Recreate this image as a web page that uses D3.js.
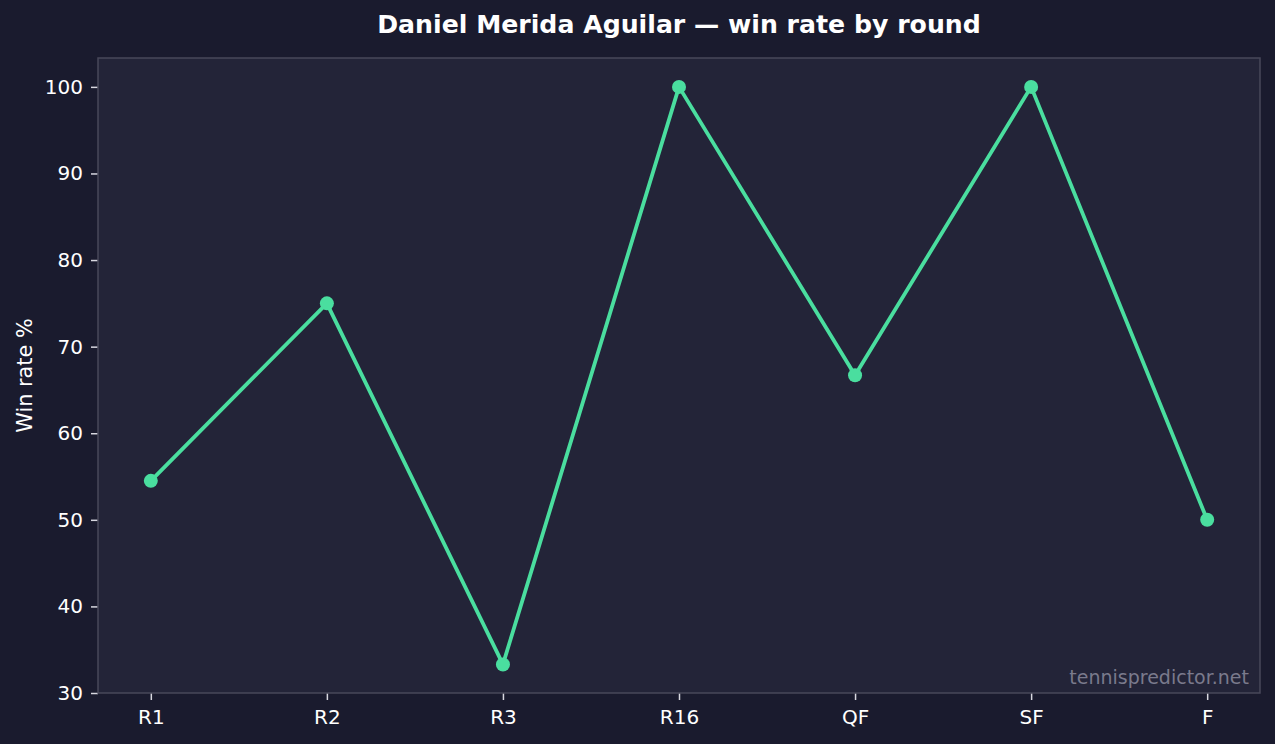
<!DOCTYPE html>
<html>
<head>
<meta charset="utf-8">
<script src="https://cdn.jsdelivr.net/npm/d3@7"></script>
<style>
  html, body { margin: 0; padding: 0; background: #1a1b2e; }
  svg { display: block; font-family: "DejaVu Sans", sans-serif; }
</style>
</head>
<body>
<svg id="chart"></svg>
<script>
// Chart data
const rounds = ['R1', 'R2', 'R3', 'R16', 'QF', 'SF', 'F'];
const winRates = [54.5, 75, 33.3, 100, 66.7, 100, 50];
const yTicks = [30, 40, 50, 60, 70, 80, 90, 100];

const W = 1275, H = 744;
const margin = { top: 58, right: 15, bottom: 51, left: 98 };
const width = W - margin.left - margin.right;
const height = H - margin.top - margin.bottom;

const svg = d3.select('#chart')
  .attr('width', W)
  .attr('height', H);

svg.append('rect')
  .attr('width', W).attr('height', H)
  .attr('fill', '#1a1b2e');

// Title
svg.append('text')
  .attr('x', 679)
  .attr('y', 33)
  .attr('text-anchor', 'middle')
  .attr('fill', '#ffffff')
  .attr('font-size', 25.2)
  .attr('font-weight', 'bold')
  .text('Daniel Merida Aguilar — win rate by round');

const g = svg.append('g')
  .attr('transform', `translate(${margin.left},${margin.top})`);

// Scales (matplotlib-like 5% margins)
const step = width / (rounds.length - 1 + 0.6);
const xScale = d3.scalePoint()
  .domain(rounds)
  .range([0.3 * step, width - 0.3 * step]);

const yScale = d3.scaleLinear()
  .domain([30, 103.335])
  .range([height, 0]);

// Plot background
g.append('rect')
  .attr('width', width)
  .attr('height', height)
  .attr('fill', '#232438');

// Axes
const xAxis = d3.axisBottom(xScale).tickSize(7).tickPadding(9);
const xg = g.append('g')
  .attr('transform', `translate(0,${height})`)
  .call(xAxis);

const yAxis = d3.axisLeft(yScale).tickValues(yTicks).tickSize(7).tickPadding(8);
const yg = g.append('g').call(yAxis);

[xg, yg].forEach(ax => {
  ax.attr('font-size', null).attr('font-family', null);
  ax.select('.domain').remove();
  ax.selectAll('.tick line').attr('stroke', '#d8d8e0').attr('stroke-width', 1.5);
  ax.selectAll('.tick text')
    .attr('fill', '#ffffff')
    .style('font-size', '20px')
    .style('font-family', '"DejaVu Sans", sans-serif');
});
xg.selectAll('.tick text').attr('dy', '0.76em');

// Frame
g.append('rect')
  .attr('width', width)
  .attr('height', height)
  .attr('fill', 'none')
  .attr('stroke', '#48485a')
  .attr('stroke-width', 1.5);

// Y label
svg.append('text')
  .attr('transform', `translate(32,${margin.top + height / 2}) rotate(-90)`)
  .attr('text-anchor', 'middle')
  .attr('fill', '#ffffff')
  .style('font-size', '20.8px')
  .text('Win rate %');

// Line
const pts = rounds.map((r, i) => ({ r, v: winRates[i] }));
const line = d3.line()
  .x(d => xScale(d.r))
  .y(d => yScale(d.v));

g.append('path')
  .datum(pts)
  .attr('d', line)
  .attr('fill', 'none')
  .attr('stroke', '#4ade9f')
  .attr('stroke-width', 3.8)
  .attr('stroke-linejoin', 'round');

g.selectAll('.dot')
  .data(pts)
  .enter().append('circle')
  .attr('class', 'dot')
  .attr('cx', d => xScale(d.r))
  .attr('cy', d => yScale(d.v))
  .attr('r', 7)
  .attr('fill', '#4ade9f');

// Watermark
g.append('text')
  .attr('x', width - 11)
  .attr('y', height - 9)
  .attr('text-anchor', 'end')
  .attr('fill', '#7a7a8c')
  .style('font-size', '19px')
  .text('tennispredictor.net');
</script>
</body>
</html>
